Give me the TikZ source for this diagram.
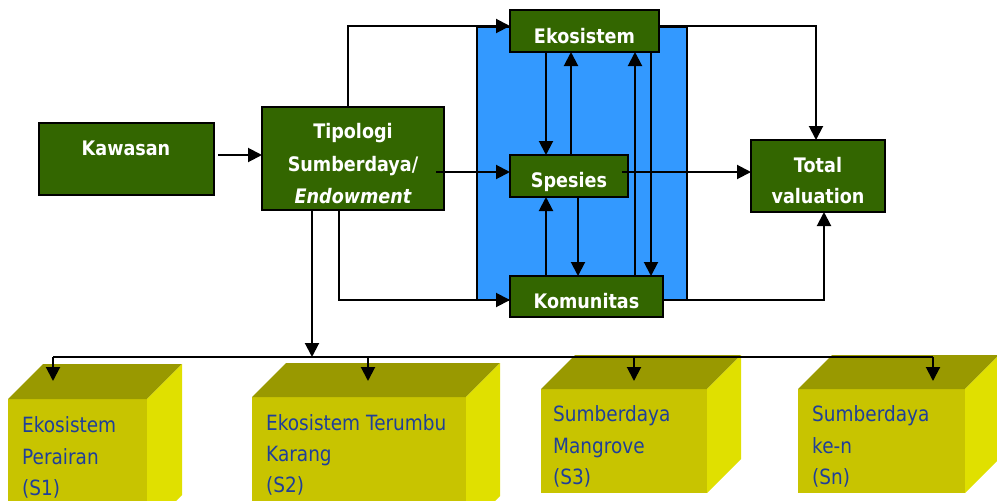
\documentclass[tikz,border=0pt]{standalone}
\usepackage{fontspec}
\setmainfont{DejaVu Sans}[FakeStretch=0.88]
\usetikzlibrary{arrows.meta}
\definecolor{gboxc}{HTML}{336600}
\definecolor{bluebg}{HTML}{3399FF}
\definecolor{cfront}{HTML}{C8C400}
\definecolor{ctop}{HTML}{999900}
\definecolor{cright}{HTML}{E0E000}
\definecolor{btext}{HTML}{1F3F99}
\newcommand{\drawcube}[5]{%
  \fill[cfront] (#1,#2) rectangle (#3,#4);
  \fill[ctop] (#1,#2) -- (#1+#5,#2-#5) -- (#3+#5,#2-#5) -- (#3,#2) -- cycle;
  \fill[cright] (#3,#2) -- (#3+#5,#2-#5) -- (#3+#5,#4-#5) -- (#3,#4) -- cycle;}
\begin{document}
\begin{tikzpicture}[x=1pt,y=-1pt,
  gnode/.style={draw=black,line width=2pt,fill=gboxc,inner sep=0pt,outer sep=0pt,anchor=north west},
  gtext/.style={text=white,font=\fontsize{20}{24}\selectfont\bfseries,anchor=base,inner sep=0pt},
  ctext/.style={text=btext,font=\fontsize{21}{24}\selectfont,anchor=base west,inner sep=0pt},
  arr/.style={line width=2pt,-{Triangle[length=14pt,width=14pt]}},
  ln/.style={line width=2pt}]
\useasboundingbox (0,0) rectangle (997,501);
\clip (0,0) rectangle (997,501);
% cubes
\drawcube{8}{399}{147}{530}{35}
\drawcube{252}{397}{466}{530}{34}
\drawcube{541}{389}{707}{493}{34}
\drawcube{798}{389}{965}{493}{34}
\node[ctext] (s1a) at (22,432) {Ekosistem};
\node[ctext] (s1b) at (22,464) {Perairan};
\node[ctext] (s1c) at (22,495) {(S1)};
\node[ctext] (s2a) at (266,430) {Ekosistem Terumbu};
\node[ctext] (s2b) at (266,461) {Karang};
\node[ctext] (s2c) at (266,492) {(S2)};
\node[ctext] (s3a) at (553,421) {Sumberdaya};
\node[ctext] (s3b) at (553,453) {Mangrove};
\node[ctext] (s3c) at (553,484) {(S3)};
\node[ctext] (s4a) at (812,421) {Sumberdaya};
\node[ctext] (s4b) at (812,453) {ke-n};
\node[ctext] (s4c) at (812,484) {(Sn)};
% blue panel
\node[draw=black,line width=2pt,fill=bluebg,inner sep=0pt,outer sep=0pt,anchor=north west,
  minimum width=210pt,minimum height=273pt] (blue) at (477,27) {};
% green boxes
\node[gnode,minimum width=175pt,minimum height=72pt] (kaw) at (39,123) {};
\node[gnode,minimum width=182pt,minimum height=103pt] (tip) at (262,107) {};
\node[gnode,minimum width=149pt,minimum height=42pt] (eko) at (510,10) {};
\node[gnode,minimum width=118pt,minimum height=42pt] (spe) at (510,155) {};
\node[gnode,minimum width=153pt,minimum height=41pt] (kom) at (510,276) {};
\node[gnode,minimum width=134pt,minimum height=72pt] (tot) at (751,140) {};
\node[gtext] (kawt) at (126,155) {Kawasan};
\node[gtext] (tip1) at (353,138) {Tipologi};
\node[gtext] (tip2) at (353,171) {Sumberdaya/};
\node[gtext] (tip3) at (353,203) {\itshape Endowment};
\node[gtext] (ekot) at (584.5,43) {Ekosistem};
\node[gtext] (spet) at (569,187) {Spesies};
\node[gtext] (komt) at (586.5,308) {Komunitas};
\node[gtext] (tot1) at (818,172) {Total};
\node[gtext] (tot2) at (818,203) {valuation};
% coordinates
\coordinate (busL) at (53,357);
\coordinate (busR) at (933,357);
\coordinate (tipin) at (436,172);
\coordinate (spein) at (622,172);
\coordinate (c1) at (53,381);
\coordinate (c2) at (368,381);
\coordinate (c3) at (634,381);
\coordinate (c4) at (933,381);
% connectors
\draw[arr] (kaw.east |- 0,155) ++(4,0) -- (tip.west |- 0,155);
\draw[arr] (tip.north -| 348,0) |- (eko.west |- 0,26);
\draw[arr] (tipin) -- (spe.west |- tipin);
\draw[arr] (tip.south -| 339,0) |- (kom.west |- 0,300);
\draw[arr] (tip.south -| 312,0) -- (busL -| 312,0);
\draw[ln] (busL) -- (busR);
\draw[arr] (busL) -- (c1);
\draw[arr] (busL -| c2) -- (c2);
\draw[arr] (busL -| c3) -- (c3);
\draw[arr] (busR) -- (c4);
\draw[arr] (eko.south -| 546,0) -- (spe.north -| 546,0);
\draw[arr] (spe.north -| 571,0) -- (eko.south -| 571,0);
\draw[arr] (kom.north -| 546,0) -- (spe.south -| 546,0);
\draw[arr] (spe.south -| 578,0) -- (kom.north -| 578,0);
\draw[arr] (kom.north -| 635,0) -- (eko.south -| 635,0);
\draw[arr] (eko.south -| 651,0) -- (kom.north -| 651,0);
\draw[arr] (spein) -- (tot.west |- spein);
\draw[arr] (eko.east |- 0,26) -| (tot.north -| 816,0);
\draw[arr] (kom.east |- 0,300) -| (tot.south -| 824,0);
\end{tikzpicture}
\end{document}
